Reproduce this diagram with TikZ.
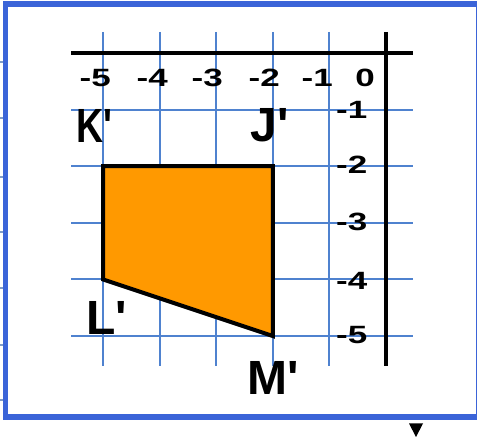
\documentclass[tikz,border=0pt]{standalone}
\usepackage{fontspec}
\newfontfamily\numfont{Liberation Sans Bold}[FakeStretch=1.4]
\newfontfamily\labfont{Liberation Sans Bold}
\definecolor{framecol}{HTML}{3B64D8}
\definecolor{gridcol}{HTML}{4F82CF}
\definecolor{tickcol}{HTML}{7F9BC8}
\definecolor{fillcol}{HTML}{FF9900}
\tikzset{
  gridline/.style={draw=gridcol, line width=2pt},
  axisline/.style={draw=black, line width=4pt},
  numlab/.style={inner sep=0pt, font=\numfont\fontsize{25}{25}\selectfont},
  ptlab/.style={inner sep=0pt, font=\labfont\fontsize{48}{48}\selectfont},
  shapeline/.style={draw=black, line width=4pt, fill=fillcol},
  framebox/.style={draw=framecol, line width=5.5pt},
  sidetick/.style={draw=tickcol, line width=1.5pt}
}
\begin{document}
\begin{tikzpicture}[x=1pt, y=-1pt]
\useasboundingbox (0,0) rectangle (477,438);
\begin{scope}
\clip (0,0) rectangle (477,438);
% outer frame
\draw[framebox] (5.5,4) rectangle (479,417);
% small ticks on the left outside
\foreach \ty in {62,118,177,232,288,345,400}
  \draw[sidetick] (0,\ty) -- (2.5,\ty);
% arrow mark below the frame
\fill[black] (409,423.5) -- (423,423.5) -- (416,437) -- cycle;
\end{scope}
% coordinate system
\begin{scope}[shift={(386,53)}, x=56.6pt, y=56.6pt]
  \foreach \gx in {-5,...,-1}
    \draw[gridline] (\gx,0.371) -- (\gx,-5.53);
  \foreach \gy in {-1,...,-5}
    \draw[gridline] (-5.565,\gy) -- (0.477,\gy);
  \coordinate (hxl) at (-5.565,0);
  \coordinate (hxr) at (0.477,0);
  \coordinate (vyt) at (0,0.371);
  \coordinate (vyb) at (0,-5.53);
  \draw[axisline] (hxl) -- (hxr);
  \draw[axisline] (vyt) -- (vyb);
  \coordinate (K) at (-5,-2);
  \coordinate (J) at (-2,-2);
  \coordinate (M) at (-2,-5);
  \coordinate (L) at (-5,-4);
  \draw[shapeline] (K) -- (J) -- (M) -- (L) -- cycle;
\end{scope}
% axis numbers (top)
\node[numlab, anchor=east] (tx5) at (111,78) {-5};
\node[numlab, anchor=east] (tx4) at (168,78) {-4};
\node[numlab, anchor=east] (tx3) at (223,78) {-3};
\node[numlab, anchor=east] (tx2) at (280,78) {-2};
\node[numlab, anchor=east] (tx1) at (333,78) {-1};
\node[numlab, anchor=east] (tx0) at (375,78) {0};
% axis numbers (right)
\node[numlab, anchor=west] (ty1) at (336,110) {-1};
\node[numlab, anchor=west] (ty2) at (336,165) {-2};
\node[numlab, anchor=west] (ty3) at (336,222) {-3};
\node[numlab, anchor=west] (ty4) at (336,281) {-4};
\node[numlab, anchor=west] (ty5) at (336,335) {-5};
% vertex labels
\node[ptlab] (lK) at (94,125.5) {\scalebox{0.78}[1]{K'}};
\node[ptlab] (lJ) at (270,125.5) {J'};
\node[ptlab] (lL) at (107,318) {L'};
\node[ptlab] (lM) at (273,378) {M'};
\end{tikzpicture}
\end{document}
